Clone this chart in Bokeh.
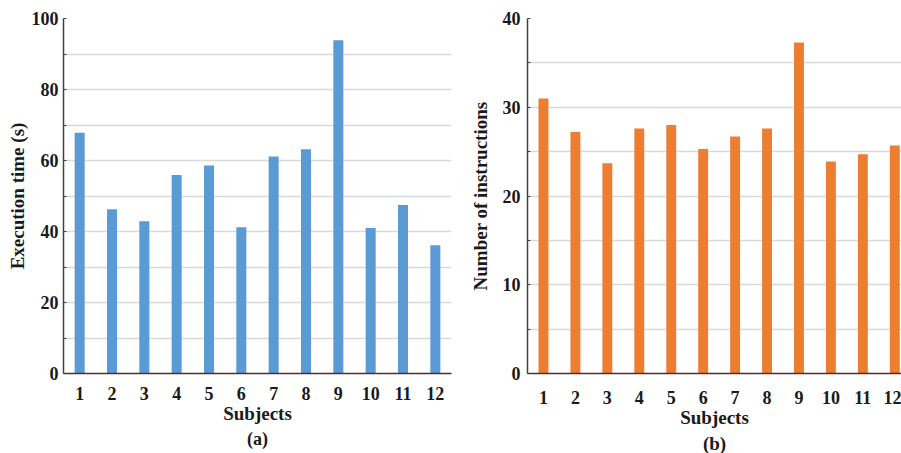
from bokeh.plotting import figure
from bokeh.layouts import row
from bokeh.models import FixedTicker, Range1d, Title
from bokeh.embed import file_html
from bokeh.resources import INLINE

subjects = [1, 2, 3, 4, 5, 6, 7, 8, 9, 10, 11, 12]
exec_time = [67.8, 46.3, 42.9, 55.9, 58.6, 41.2, 61.1, 63.2, 93.9, 41.0, 47.5, 36.1]
instructions = [31.0, 27.2, 23.7, 27.6, 28.0, 25.3, 26.7, 27.6, 37.3, 23.9, 24.7, 25.7]
left_ticks = [0, 20, 40, 60, 80, 100]
right_ticks = [0, 10, 20, 30, 40]

FONT = "Liberation Serif"
BLUE = "#5b9bd5"
ORANGE = "#ed7d31"
GRID = "#d9d9d9"


def make(width, height, bl, bt, bb, br, xstart, xend, ymax, yticks, minor, ylabel, vals,
         color, tag, ystand, ylstand, xstand, xlstand, tstand, tsize, bw):
    p = figure(width=width, height=height, output_backend="svg", toolbar_location=None,
               x_range=Range1d(xstart, xend), y_range=Range1d(0, ymax),
               min_border_left=bl, min_border_top=bt, min_border_bottom=bb,
               min_border_right=br)
    p.outline_line_color = None
    p.vbar(x=subjects, top=vals, width=bw, fill_color=color, line_color=None)

    p.xgrid.grid_line_color = None
    p.ygrid.grid_line_color = GRID
    p.ygrid.grid_line_width = 1.5
    p.ygrid.minor_grid_line_color = GRID
    p.ygrid.minor_grid_line_width = 1.5

    xa = p.xaxis[0]
    xa.ticker = FixedTicker(ticks=subjects)
    xa.axis_line_color = "#5a2a2a"
    xa.axis_line_width = 1.5
    xa.major_tick_line_color = None
    xa.minor_tick_line_color = None
    xa.major_label_text_font = FONT
    xa.major_label_text_font_style = "bold"
    xa.major_label_text_font_size = "18px"
    xa.major_label_text_color = "#1a1a1a"
    xa.major_label_standoff = xstand
    xa.axis_label = "Subjects"
    xa.axis_label_text_font = FONT
    xa.axis_label_text_font_style = "bold"
    xa.axis_label_text_font_size = "19px"
    xa.axis_label_text_color = "#1a1a1a"
    xa.axis_label_standoff = xlstand

    ya = p.yaxis[0]
    ya.ticker = FixedTicker(ticks=yticks, minor_ticks=minor)
    ya.axis_line_color = "#404040"
    ya.axis_line_width = 1.5
    ya.major_tick_line_color = "#404040"
    ya.minor_tick_line_color = "#404040"
    ya.major_tick_in = 3
    ya.major_tick_out = 0
    ya.minor_tick_in = 3
    ya.minor_tick_out = 0
    ya.major_label_text_font = FONT
    ya.major_label_text_font_style = "bold"
    ya.major_label_text_font_size = "18px"
    ya.major_label_text_color = "#1a1a1a"
    ya.major_label_standoff = ystand
    ya.axis_label = ylabel
    ya.axis_label_text_font = FONT
    ya.axis_label_text_font_style = "bold"
    ya.axis_label_text_font_size = "19px"
    ya.axis_label_text_color = "#1a1a1a"
    ya.axis_label_standoff = ylstand

    t = Title(text=tag, align="center", text_font=FONT, text_font_style="bold",
              text_font_size=tsize, text_color="#1a1a1a", standoff=tstand, offset=0)
    p.add_layout(t, "below")
    return p


p1 = make(466, 453, 63, 18, 74, 15, 0.5, 12.5, 100, left_ticks,
          [10, 30, 50, 70, 90], "Execution time (s)", exec_time, BLUE, "(a)",
          5, 1, 7, 0, 0, "18px", 0.31)

p2 = make(435, 453, 58, 16, 79, 0, 0.5, 12.21, 40, right_ticks,
          [5, 15, 25, 35], "Number of instructions", instructions, ORANGE, "(b)",
          7, 9, 11, 0, 0, "19px", 0.31)

layout = row(p1, p2)

open("out.html", "w").write(file_html(layout, INLINE))
